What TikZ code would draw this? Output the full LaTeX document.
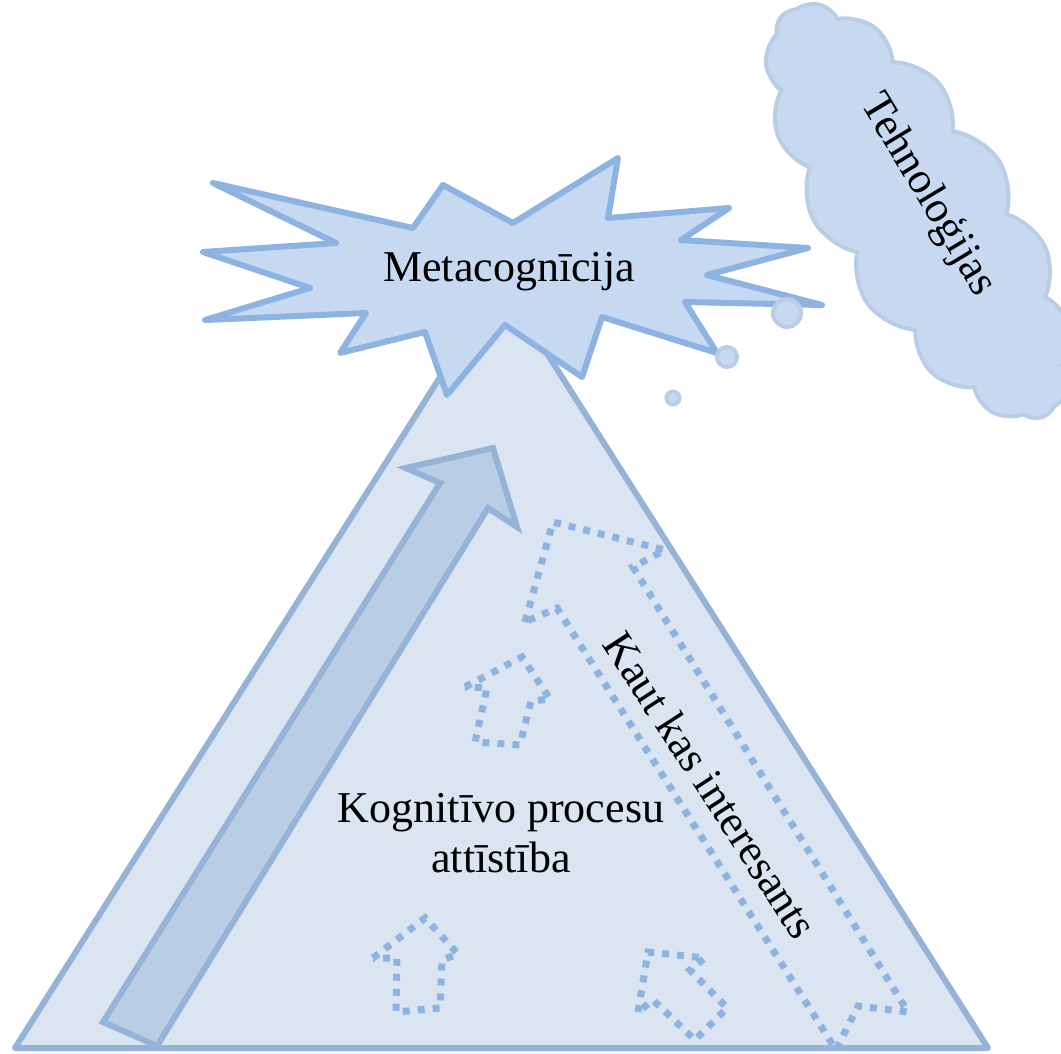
\documentclass[tikz,border=0pt]{standalone}
\usepackage{fontspec}
\setmainfont{Liberation Serif}
\usetikzlibrary{shapes.symbols}
\definecolor{trifill}{HTML}{DBE5F1}
\definecolor{triline}{HTML}{95B3D7}
\definecolor{burstfill}{HTML}{C6D9F1}
\definecolor{burstline}{HTML}{8DB3E2}
\definecolor{arrowfill}{HTML}{B9CDE5}
\definecolor{cloudline}{HTML}{B9CDE5}
\definecolor{dotline}{HTML}{8DB3E2}
\begin{document}
\begin{tikzpicture}[x=1pt,y=-1pt,
  tri/.style={fill=trifill,draw=triline,line width=6pt,line join=round},
  burst/.style={fill=burstfill,draw=burstline,line width=6pt,line join=round},
  bigarrow/.style={fill=arrowfill,draw=triline,line width=6pt,line join=miter},
  dotarrow/.style={draw=dotline,line width=7pt,dash pattern=on 7pt off 8pt},
  cloudbox/.style={cloud,cloud puffs=15,cloud puff arc=100,cloud ignores aspect,fill=burstfill,draw=cloudline,line width=4pt,inner sep=0pt},
  bubble/.style={circle,fill=burstfill,draw=cloudline,line width=4pt,inner sep=0pt},
  lbl/.style={font=\fontsize{44}{50}\selectfont,text=black,inner sep=0pt,align=center}]
\fill[white] (0,0) rectangle (1061,1054);
\useasboundingbox (0,0) rectangle (1061,1054);

% pyramid
\draw[tri] (15,1048) -- (501,281) -- (988,1048) -- cycle;

% starburst
\draw[burst] (213,183) -- (413,228) -- (443,185) -- (513,223) -- (618,158) -- (608,218)
  -- (729,208) -- (681,240) -- (808,248) -- (707,275) -- (822,305) -- (685,302)
  -- (717,353) -- (602,317) -- (582,377) -- (505,325) -- (447,395) -- (425,332)
  -- (340,353) -- (366,313) -- (205,320) -- (310,288) -- (203,252) -- (336,243) -- cycle;

% big arrow
\draw[bigarrow] (103,1022) -- (440,483) -- (406,468) -- (493,448) -- (517,527)
  -- (488,508) -- (157,1046) -- cycle;

% dotted banner arrow
\draw[dotarrow] (525,622) -- (553,522) -- (665,550) -- (633,567) -- (908,1012)
  -- (858,1006) -- (836,1050) -- (557,608) -- cycle;

% small dotted arrows
\draw[dotarrow] (465,687) -- (522,657) -- (550,699) -- (531,701) -- (520,745)
  -- (475,742) -- (487,688) -- cycle;
\draw[dotarrow] (373,958) -- (425,918) -- (458,954) -- (442,960) -- (440,1008)
  -- (396,1012) -- (397,958) -- cycle;
\draw[dotarrow] (638,1012) -- (648,952) -- (705,958) -- (690,970) -- (727,1008)
  -- (695,1040) -- (653,1000) -- cycle;

% texts
\node[lbl] (meta) at (509,272) {Metacognīcija};
\node[lbl] (kog) at (501,833) {Kognitīvo procesu\\attīstība};
\node[lbl,rotate=-57] (kaut) at (711,785) {Kaut kas interesants};

% cloud
\node[cloudbox,minimum width=480pt,minimum height=190pt,rotate=-57] (cloud) at (919,212) {};
\node[lbl,rotate=-59] (tech) at (928,195) {Tehnoloģijas};

% thought bubbles
\node[bubble,minimum size=28pt] (b1) at (787,313) {};
\node[bubble,minimum size=20pt] (b2) at (727,357) {};
\node[bubble,minimum size=13pt] (b3) at (673,398) {};
\end{tikzpicture}
\end{document}
